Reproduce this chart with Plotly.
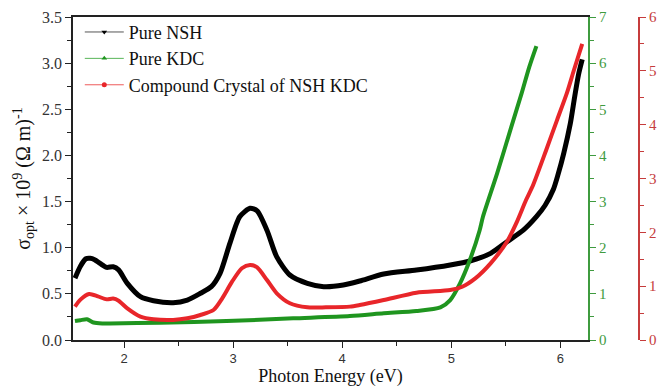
import plotly.graph_objects as go

# Optical conductivity vs photon energy for the three crystals.
# Pure NSH is read on the left axis (x10^9 (Ohm m)^-1), Pure KDC on the green
# right axis and the compound crystal on the red far-right axis.

nsh_energy = [1.55, 1.60, 1.65, 1.69, 1.73, 1.78, 1.84, 1.90, 1.95, 2.03, 2.15, 2.27, 2.45,
              2.58, 2.70, 2.80, 2.88, 2.97, 3.06, 3.155, 3.22, 3.31, 3.40, 3.52, 3.68,
              3.83, 4.01, 4.16, 4.38, 4.68, 4.99, 5.17, 5.36, 5.51, 5.66, 5.78, 5.86,
              5.935, 5.98, 6.03, 6.09, 6.13, 6.165, 6.20]
nsh_sigma = [0.67, 0.80, 0.88, 0.885, 0.87, 0.83, 0.787, 0.794, 0.76, 0.614, 0.47, 0.426, 0.404,
             0.433, 0.506, 0.578, 0.722, 1.047, 1.336, 1.427, 1.40, 1.19, 0.90, 0.704, 0.614,
             0.578, 0.596, 0.639, 0.715, 0.758, 0.813, 0.856, 0.939, 1.065, 1.19, 1.336, 1.46,
             1.63, 1.80, 2.02, 2.34, 2.63, 2.87, 3.04]

kdc_energy = [1.55, 1.60, 1.66, 1.72, 1.80, 1.87, 2.33, 2.94, 3.55, 4.07, 4.38, 4.68, 4.90,
              4.99, 5.08, 5.17, 5.26, 5.29, 5.42, 5.55, 5.645, 5.715, 5.78]
kdc_sigma = [0.41, 0.43, 0.45, 0.38, 0.36, 0.36, 0.374, 0.41, 0.47, 0.52, 0.578, 0.628, 0.708,
             0.866, 1.228, 1.734, 2.38, 2.67, 3.61, 4.62, 5.35, 5.92, 6.37]

compound_energy = [1.55, 1.60, 1.68, 1.76, 1.84, 1.90, 1.95, 2.03, 2.15, 2.27, 2.45, 2.58, 2.70,
                   2.82, 2.90, 2.99, 3.08, 3.155, 3.22, 3.31, 3.40, 3.52, 3.68, 3.85, 4.07,
                   4.16, 4.38, 4.68, 4.99, 5.10, 5.22, 5.36, 5.51, 5.60, 5.685, 5.75, 5.87,
                   5.97, 6.06, 6.125, 6.20]
compound_sigma = [0.62, 0.75, 0.854, 0.81, 0.755, 0.77, 0.73, 0.588, 0.434, 0.384, 0.372, 0.403,
                  0.465, 0.557, 0.775, 1.083, 1.332, 1.394, 1.349, 1.114, 0.867, 0.682, 0.607,
                  0.607, 0.62, 0.65, 0.742, 0.879, 0.929, 0.99, 1.145, 1.424, 1.826, 2.19, 2.60,
                  2.88, 3.53, 4.09, 4.59, 5.02, 5.50]

series_names = ["Pure NSH", "Pure KDC", "Compound Crystal of NSH KDC"]
series_colors = ["#000000", "#1f951f", "#e8262a"]
legend_line_colors = ["#555555", "#59b559", "#ee5a5a"]
series_symbols = ["triangle-down", "triangle-up", "circle"]

x_ticks = [2, 3, 4, 5, 6]
left_ticks = [0.0, 0.5, 1.0, 1.5, 2.0, 2.5, 3.0, 3.5]
green_ticks = [0, 1, 2, 3, 4, 5, 6, 7]
red_ticks = [0, 1, 2, 3, 4, 5, 6]

GREEN_AXIS = "#3f9b3f"
RED_AXIS = "#c63c3c"
SERIF = "Liberation Serif, Times New Roman, serif"
SANS = "Liberation Sans, Arial, sans-serif"

fig = go.Figure()

curves = [
    (nsh_energy, nsh_sigma, "y", 5),
    (kdc_energy, kdc_sigma, "y2", 4),
    (compound_energy, compound_sigma, "y3", 4),
]
for (xs, ys, yref, width), color in zip(curves, series_colors):
    fig.add_trace(go.Scatter(
        x=xs, y=ys, yaxis=yref, mode="lines",
        line=dict(color=color, width=width, shape="spline", smoothing=0.7),
        showlegend=False, hoverinfo="x+y",
    ))

# legend entries: thin line with a small marker, as in the original key
for name, lcolor, color, symbol in zip(series_names, legend_line_colors, series_colors, series_symbols):
    fig.add_trace(go.Scatter(
        x=[None], y=[None], mode="lines+markers", name=name,
        line=dict(color=lcolor, width=1),
        marker=dict(color=color, symbol=symbol, size=5),
    ))

plot_left, plot_right_main, plot_right_far = 73, 588, 639
x_domain_end = (plot_right_main - plot_left) / (plot_right_far - plot_left)

fig.update_layout(
    width=662, height=387,
    margin=dict(l=73, r=662 - plot_right_far, t=17, b=47),
    paper_bgcolor="white", plot_bgcolor="white",
    showlegend=True,
    legend=dict(
        x=0.012, y=1.01, xanchor="left", yanchor="top",
        bgcolor="rgba(0,0,0,0)", borderwidth=0,
        font=dict(family=SERIF, size=18, color="#111111"),
        tracegroupgap=0, itemwidth=39,
    ),
    xaxis=dict(
        domain=[0, x_domain_end], range=[1.532, 6.253],
        tickvals=x_ticks, ticks="outside", ticklen=6, tickwidth=1.2, tickcolor="#222",
        minor=dict(dtick=0.5, tick0=0, ticks="outside", ticklen=4, tickcolor="#222"),
        showline=True, linecolor="#222", linewidth=1.5, mirror=True,
        showgrid=False, zeroline=False,
        tickfont=dict(family=SANS, size=13, color="#333333"),
        title=dict(text="Photon Energy (eV)", standoff=2,
                   font=dict(family=SERIF, size=18, color="#111111")),
        automargin=False,
    ),
    yaxis=dict(
        range=[0, 3.5], tickvals=left_ticks, tickformat=".1f",
        ticks="outside", ticklen=6, tickwidth=1.2, tickcolor="#222",
        minor=dict(dtick=0.25, tick0=0, ticks="outside", ticklen=4, tickcolor="#222"),
        showline=True, linecolor="#222", linewidth=1.5,
        showgrid=False, zeroline=False,
        tickfont=dict(family=SERIF, size=16, color="#333333"),
        title=dict(text="σ<sub>opt</sub> × 10<sup>9</sup> (Ω m)<sup>-1</sup>", standoff=6,
                   font=dict(family=SERIF, size=20, color="#111111")),
        automargin=False,
    ),
    yaxis2=dict(
        overlaying="y", side="right", anchor="x",
        range=[0, 7], tickvals=green_ticks,
        ticks="outside", ticklen=6, tickwidth=1.2, tickcolor=GREEN_AXIS,
        minor=dict(dtick=0.5, tick0=0, ticks="outside", ticklen=4, tickcolor=GREEN_AXIS),
        showline=True, linecolor=GREEN_AXIS, linewidth=2,
        showgrid=False, zeroline=False,
        tickfont=dict(family=SERIF, size=15, color=GREEN_AXIS),
        automargin=False,
    ),
    yaxis3=dict(
        overlaying="y", side="right", anchor="free", position=1.0,
        range=[0, 6], tickvals=red_ticks,
        ticks="outside", ticklen=6, tickwidth=1.2, tickcolor=RED_AXIS,
        minor=dict(dtick=0.5, tick0=0, ticks="outside", ticklen=4, tickcolor=RED_AXIS),
        showline=True, linecolor=RED_AXIS, linewidth=2,
        showgrid=False, zeroline=False,
        tickfont=dict(family=SERIF, size=15, color=RED_AXIS),
        automargin=False,
    ),
)

fig.write_html("out.html")
